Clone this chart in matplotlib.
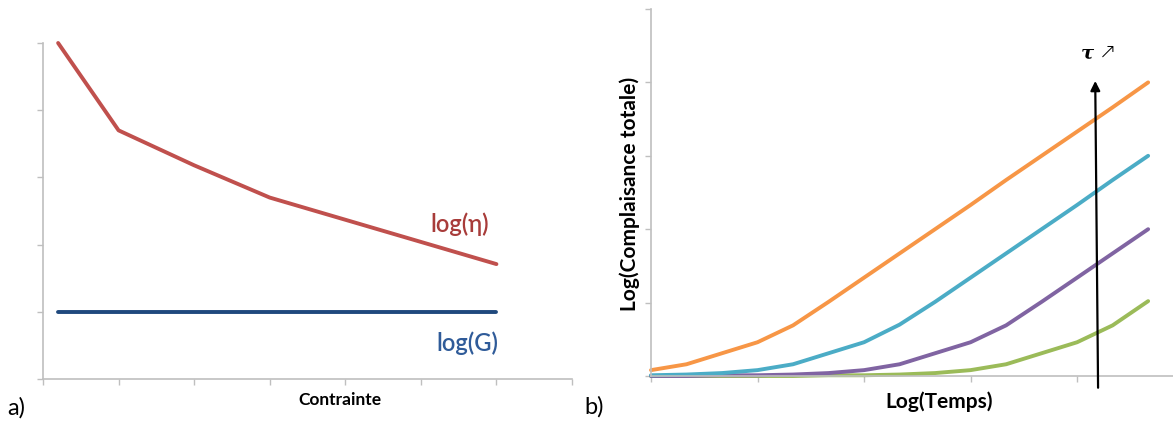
import matplotlib
matplotlib.use("Agg")
import matplotlib.pyplot as plt

# ---- data: panel a) ----
stress_x = [0.2, 1, 2, 3, 4, 5, 6]
log_eta = [5.0, 3.70, 3.18, 2.70, 2.37, 2.04, 1.71]
modulus_x = [0.2, 6]
log_G = [1.0, 1.0]

# ---- data: panel b) ----
time_idx = list(range(15))
curve_orange = [0.08, 0.16, 0.31, 0.46, 0.69, 1.01, 1.34, 1.67, 2.0, 2.33, 2.67, 3.0, 3.33, 3.66, 4.0]
curve_cyan = [0.01, 0.02, 0.04, 0.08, 0.16, 0.31, 0.46, 0.70, 1.01, 1.34, 1.67, 2.0, 2.33, 2.67, 3.0]
curve_purple = [0.0, 0.0, 0.01, 0.01, 0.02, 0.04, 0.08, 0.16, 0.31, 0.46, 0.69, 1.01, 1.34, 1.67, 2.0]
curve_green = [0.0, 0.0, 0.0, 0.0, 0.0, 0.01, 0.01, 0.02, 0.04, 0.08, 0.16, 0.31, 0.46, 0.69, 1.02]

W, H = 1173, 421
fig = plt.figure(figsize=(W / 100, H / 100), dpi=100)
fam = ['Lato', 'DejaVu Sans']
axis_col = '#BFBFBF'


def style(ax):
    for s in ('top', 'right'):
        ax.spines[s].set_visible(False)
    for s in ('left', 'bottom'):
        ax.spines[s].set_color(axis_col)
        ax.spines[s].set_linewidth(1.2)
    ax.tick_params(axis='both', direction='out', length=4, width=1.0,
                   color=axis_col, labelleft=False, labelbottom=False)


# ---- panel a ----
axa = fig.add_axes([43 / W, 1 - 379 / H, 529 / W, 336 / H])
style(axa)
axa.set_xlim(0, 7)
axa.set_ylim(0, 5)
axa.set_xticks(range(8))
axa.set_yticks(range(6))
axa.plot(stress_x, log_eta, color='#C0504D', lw=2.8, clip_on=False,
         solid_capstyle='round', solid_joinstyle='round')
axa.plot(modulus_x, log_G, color='#1F497D', lw=2.8, clip_on=False,
         solid_capstyle='round')
axa.text(5.52, 2.31, 'log(η)', color='#A83C3A', fontsize=17,
         family=fam, fontweight='semibold', ha='center', va='center')
axa.text(5.61, 0.54, 'log(G)', color='#2F5B99', fontsize=17,
         family=fam, fontweight='semibold', ha='center', va='center')

# ---- panel b ----
axb = fig.add_axes([651 / W, 1 - 376 / H, 522 / W, 367 / H])
style(axb)
axb.set_xlim(0, 14.7)
axb.set_ylim(0, 5)
axb.set_xticks([0, 3, 6, 9, 12])
axb.set_yticks(range(6))
for ys, c in [(curve_green, '#9BBB59'), (curve_purple, '#8064A2'),
              (curve_cyan, '#4BACC6'), (curve_orange, '#F79646')]:
    axb.plot(time_idx, ys, color=c, lw=2.8, clip_on=False,
             solid_capstyle='round', solid_joinstyle='round')

axb.annotate('', xy=(12.51, 4.02), xytext=(12.59, -0.16),
             xycoords='data', textcoords='data', annotation_clip=False,
             arrowprops=dict(arrowstyle='-|>', color='black', lw=1.6,
                             mutation_scale=14, shrinkA=0, shrinkB=0))
axb.text(12.28, 4.39, 'τ', fontsize=14, family='DejaVu Serif',
         fontweight='bold', fontstyle='italic', ha='center', va='center',
         clip_on=False)
axb.text(12.87, 4.42, '↗', fontsize=15, family='DejaVu Sans',
         fontweight='light', ha='center', va='center', clip_on=False)

# ---- labels ----
fig.text(340 / W, 1 - 400 / H, 'Contrainte', family=fam, fontweight='bold',
         fontsize=12.5, ha='center', va='center')
fig.text(939 / W, 1 - 402 / H, 'Log(Temps)', family=fam, fontweight='bold',
         fontsize=15, ha='center', va='center')
fig.text(630 / W, 1 - 194 / H, 'Log(Complaisance totale)', family=fam,
         fontweight='bold', fontsize=15, rotation=90, ha='center', va='center')
fig.text(16 / W, 1 - 408 / H, 'a)', family=fam, fontsize=17,
         ha='center', va='center')
fig.text(594 / W, 1 - 407 / H, 'b)', family=fam, fontsize=17,
         ha='center', va='center')

fig.savefig('out.png', dpi=100)
